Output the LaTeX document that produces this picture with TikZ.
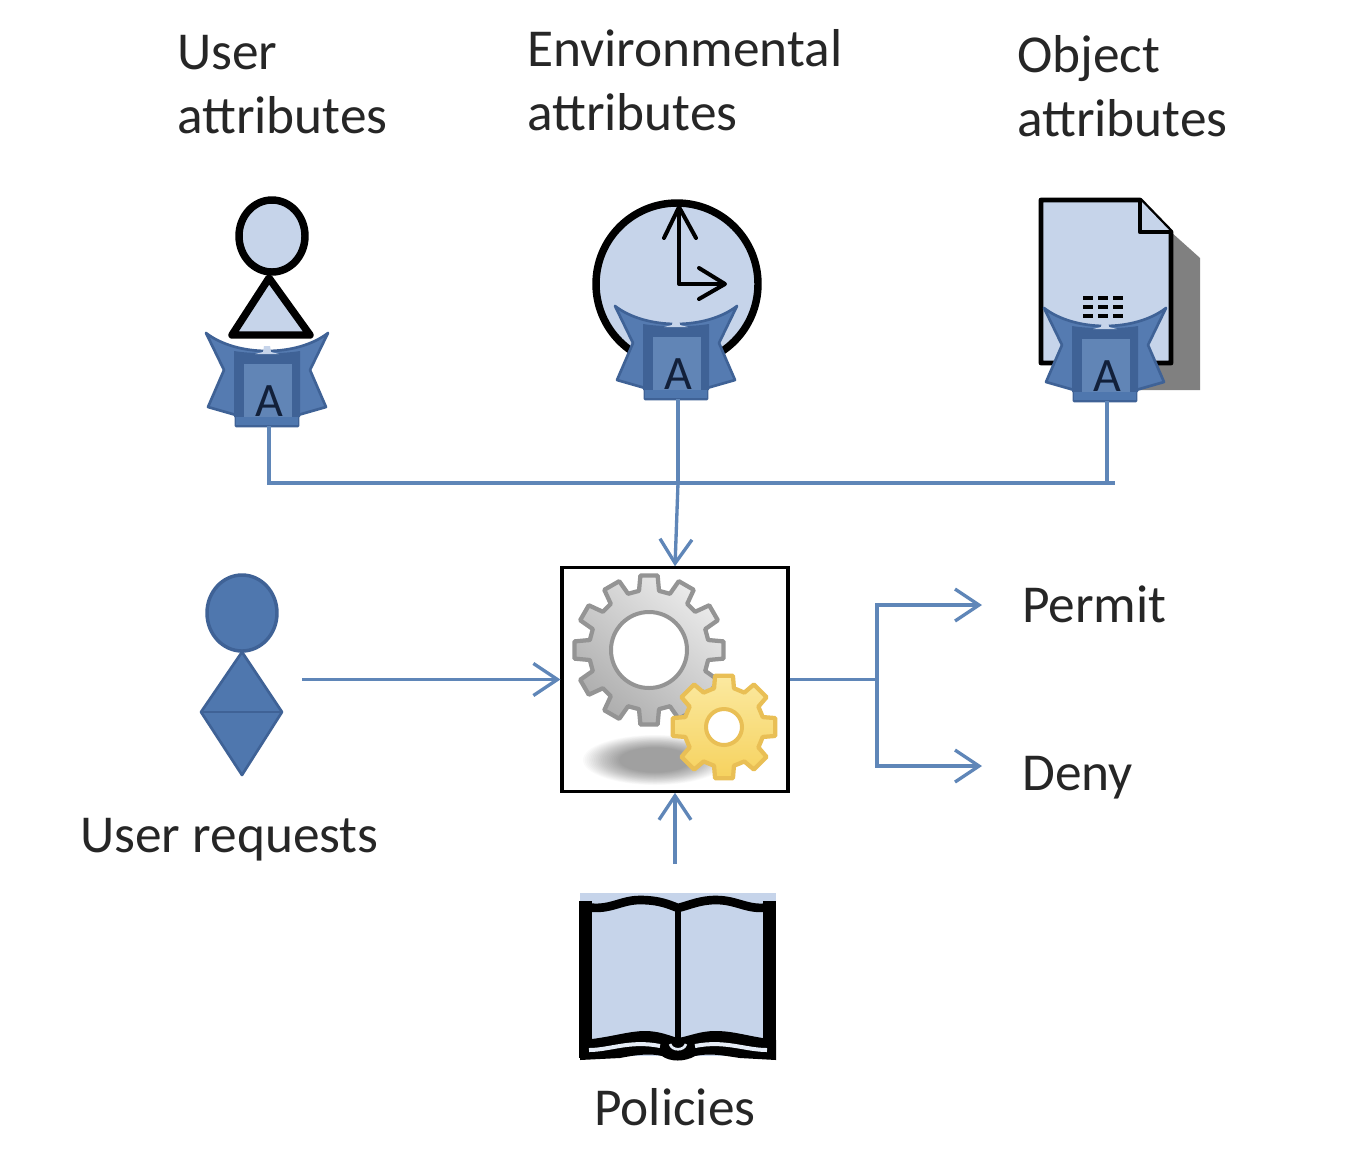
\documentclass[tikz,border=0pt]{standalone}
\usepackage{fontspec}
\setmainfont{Carlito}
\usetikzlibrary{arrows.meta}
\definecolor{lineblue}{HTML}{5F86B8}
\definecolor{paleblue}{HTML}{C6D4EA}
\definecolor{midblue}{HTML}{4F77AE}
\definecolor{darkblue}{HTML}{3F6296}
\definecolor{wingblue}{HTML}{557BB1}
\definecolor{inkblue}{HTML}{12203A}
\definecolor{goldedge}{HTML}{E9BF55}
\definecolor{goldlight}{HTML}{FBE9A0}
\definecolor{golddeep}{HTML}{F6D25E}
\tikzset{
  x=0.75pt,y=-0.75pt,
  label text/.style={font=\fontsize{40}{48}\selectfont,text=black!85,inner sep=0pt,align=left},
  conn/.style={draw=lineblue,line width=2.5pt},
  arrowed/.style={conn,-{Straight Barb[length=18pt,width=24pt,line width=2.5pt]}},
  icon/.style={draw=black,line width=5.6pt,fill=paleblue,line join=round},
  thinicon/.style={draw=black,line width=3pt,line cap=round,line join=round},
  grayGear/.style={draw=black!42,line width=3.2pt,line join=round,left color=black!8,right color=black!32,shading angle=-40},
  goldGear/.style={draw=goldedge,line width=3.2pt,line join=round,top color=goldlight,bottom color=golddeep},
}
% badge: #1 bottom coordinate name, #2 x, #3 y of top centre, #4 letter offset
\newcommand{\badge}[4]{%
  \begin{scope}[shift={(#2,#3)}]
    \fill[wingblue,draw=darkblue,line width=2pt,line join=round]
      (-61,0) .. controls (-30,24) and (30,24) .. (61,0)
      -- (43,37) -- (59,74) -- (31,82) -- (31,93) -- (-31,93) -- (-31,82) -- (-59,74) -- (-43,37) -- cycle;
    \fill[darkblue] (-33,18) .. controls (-15,21) and (15,21) .. (33,18) -- (33,84) -- (-33,84) -- cycle;
    \fill[midblue!90!white] (-23,31) rectangle (25,84);
    \fill[midblue] (-31,84) rectangle (31,92);
    \fill[paleblue] (-12,21) -- (-4,19) -- (-3,13) -- (3,13) -- (4,19) -- (12,21) -- cycle;
    \node[font=\fontsize{36}{36}\selectfont,text=inkblue,inner sep=0pt] (#1A) at (#4,68) {A};
    \coordinate (#1) at (#4,93);
  \end{scope}}
% gear: #1 style, #2 cx, #3 cy, #4 outer r, #5 root r, #6 teeth, #7 hole r, #8 hole line
\newcommand{\gear}[8]{%
  \pgfmathsetmacro{\gstep}{360/#6}
  \pgfmathsetmacro{\glast}{#6-1}
  \begin{scope}[shift={(#2,#3)}]
    \path[#1] (0-\gstep*0.32:#5)
      \foreach \gi in {0,...,\glast}{
        -- ({\gi*\gstep-\gstep*0.22}:#4) -- ({\gi*\gstep+\gstep*0.22}:#4)
        -- ({\gi*\gstep+\gstep*0.32}:#5) -- ({\gi*\gstep+\gstep*0.68}:#5)
      } -- cycle;
    \draw[draw=#8,line width=3pt,fill=white] (0,0) circle[radius=#7];
  \end{scope}}
\begin{document}
\begin{tikzpicture}
\useasboundingbox (0,0) rectangle (1348,1168);
\fill[white] (0,0) rectangle (1348,1168);

% column headings
\node[label text,anchor=north west] (userattr) at (177,35) {User\\attributes};
\node[label text,anchor=north west] (envattr) at (527,29) {Environmental\\attributes};
\node[label text,anchor=north west] (objattr) at (1017,35) {Object\\attributes};

% user icon
\draw[icon] (269,278) -- (232,335) -- (310,335) -- cycle;
\draw[icon] (272,236) ellipse[x radius=33,y radius=36];
\badge{ubadge}{267}{333}{2}

% clock icon
\draw[icon] (677,284) circle[radius=81];
\draw[thinicon] (679,207) -- (679,284) -- (724,284);
\draw[thinicon] (664,238) -- (679,207) -- (696,238);
\draw[thinicon] (699,268) -- (725,284) -- (699,299);
\badge{cbadge}{676}{306}{2}

% document icon
\fill[black!50] (1171,232) -- (1200,258) -- (1200,390) -- (1120,390) -- (1120,360) -- (1171,360) -- cycle;
\draw[icon,line width=3.6pt] (1041,200) -- (1140,200) -- (1171,232) -- (1171,363) -- (1041,363) -- cycle;
\draw[icon,line width=3.2pt] (1140,200) -- (1140,232) -- (1171,232);
\foreach \gy in {298,307,316}
  \foreach \gx in {1083,1098,1113}
    \draw[black,line width=2.6pt] (\gx,\gy) -- ++(10,0);
\badge{dbadge}{1105}{308}{2}

% attribute bus
\coordinate (junction) at (678,483);
\coordinate (busend) at (1115,483);
\draw[conn] (ubadge) |- (busend);
\draw[conn] (dbadge) -- (dbadge |- busend);
\draw[conn] (cbadge) -- (junction);

% decision box
\node[draw=black,line width=2.4pt,fill=white,minimum width=169.5pt,minimum height=167.5pt,inner sep=0pt] (engine) at (675,679.5) {};
\foreach \gs in {1,0.975,...,0.5}
  \fill[black,opacity=0.02] (655,760) ellipse[x radius={72*\gs},y radius={25*\gs}];
\gear{grayGear}{649}{650}{75}{60}{12}{38}{black!42}
\gear{goldGear}{724}{727}{52}{40}{8}{18}{goldedge}

\draw[arrowed] (junction) -- (engine.north);

% requester
\fill[midblue,draw=darkblue,line width=2pt,line join=round] (242,652) -- (282,712) -- (242,775) -- (201,712) -- cycle;
\draw[darkblue,line width=2pt] (201,712) -- (282,712);
\fill[midblue,draw=darkblue,line width=2.6pt] (242,613) ellipse[x radius=35,y radius=38];
\node[label text,anchor=base west] (requests) at (80,852) {User requests};
\coordinate (reqout) at (302,679.5);
\draw[arrowed] (reqout) -- (engine.west |- reqout);

% outcomes
\node[label text,anchor=base west] (permit) at (1022,622) {Permit};
\node[label text,anchor=base west] (deny) at (1022,790) {Deny};
\coordinate (permitin) at (982,605);
\coordinate (denyin) at (982,766);
\coordinate (fork) at (877,679.5);
\draw[conn] (engine.east) -- (fork);
\draw[arrowed] (fork) |- (permitin);
\draw[arrowed] (fork) |- (denyin);

% policies book
\fill[paleblue] (580,893) rectangle (776,1058);
\fill[white] (580,1056) rectangle (776,1062);
\draw[black,line width=6.5pt,line join=round]
  (586,907) .. controls (610,911) and (620,900) .. (640,900) .. controls (660,900) and (670,905) .. (678,908)
  .. controls (690,905) and (700,900) .. (716,900) .. controls (738,900) and (748,911) .. (770,907);
\fill[black] (579,901) rectangle (592,1058);
\fill[black] (763,901) rectangle (776,1058);
\draw[black,line width=5.2pt] (678,905) -- (678,1042);
\fill[black] (580,1040) -- (592,1039) .. controls (615,1036) and (630,1031) .. (645,1031) .. controls (660,1031) and (670,1036) .. (678,1038)
  .. controls (690,1036) and (700,1031) .. (715,1031) .. controls (735,1031) and (745,1036) .. (776,1040)
  -- (776,1060) -- (740,1058) .. controls (720,1055) and (710,1053) .. (695,1056) .. controls (685,1062) and (670,1062) .. (662,1056)
  .. controls (650,1053) and (635,1055) .. (620,1058) -- (580,1060) -- cycle;
\draw[paleblue!45!white,line width=3pt] (589,1050) .. controls (610,1050) and (630,1040) .. (660,1046);
\draw[paleblue!45!white,line width=3pt] (767,1050) .. controls (745,1050) and (725,1040) .. (695,1046);
\draw[paleblue!45!white,line width=2pt] (670,1044) .. controls (672,1051) and (684,1051) .. (686,1044);
\node[label text,anchor=base west] (policies) at (594,1125) {Policies};
\coordinate (polout) at (675,864);
\draw[arrowed] (polout) -- (engine.south);
\end{tikzpicture}
\end{document}
